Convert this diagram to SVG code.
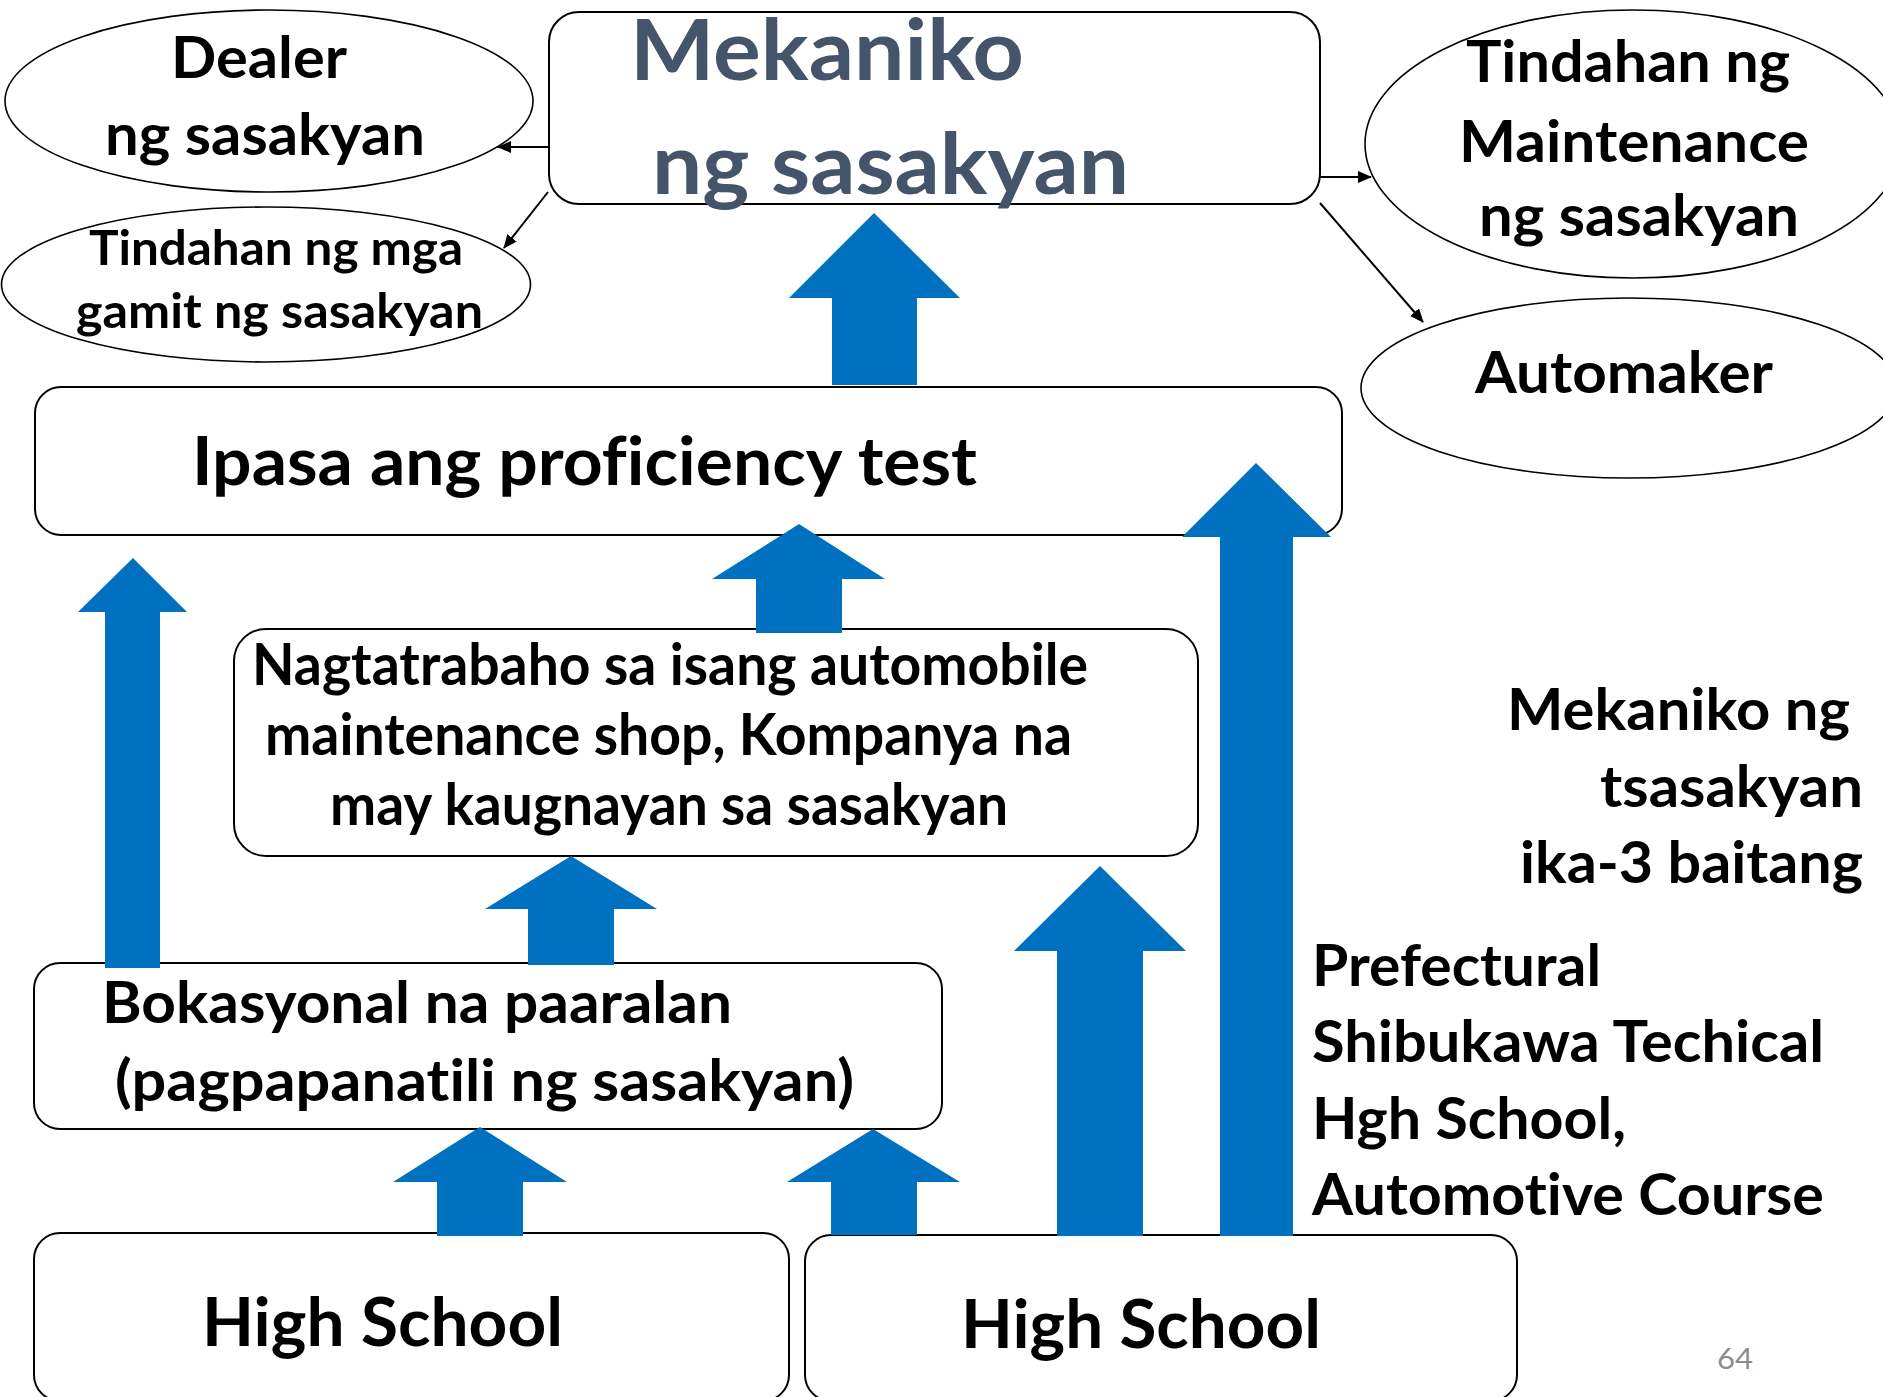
<svg xmlns="http://www.w3.org/2000/svg" width="1883" height="1397" viewBox="0 0 1883 1397">
<style>
.shape{fill:#fff;stroke:#000;stroke-width:2}
.ell{fill:#fff;stroke:#000;stroke-width:1.6}
.t{font-family:Lato,"Open Sans","Liberation Sans",sans-serif;font-weight:700;fill:#000;font-variant-ligatures:none;font-feature-settings:"liga" 0,"clig" 0,"dlig" 0,"calt" 0}
.s57{font-size:57px}.s47{font-size:47px}.s66{font-size:66px}.s85{font-size:84px}
.dark{fill:#44546A}
.blk{fill:#0070C0}
.ln{stroke:#000;stroke-width:2;fill:none;marker-end:url(#ah)}
</style>
<defs>
<marker id="ah" markerUnits="userSpaceOnUse" markerWidth="14" markerHeight="12" refX="13" refY="6" orient="auto">
<path d="M0,0 L14,6 L0,12 z" fill="#000"/>
</marker>
</defs>
<rect width="1883" height="1397" fill="#fff"/>

<g id="dealer">
<ellipse class="ell" cx="269" cy="101" rx="264" ry="91"/>
<text class="t s57" x="171" y="78" textLength="176" lengthAdjust="spacingAndGlyphs">Dealer</text>
<text class="t s57" x="105" y="155" textLength="320" lengthAdjust="spacingAndGlyphs">ng sasakyan</text>
</g>

<g id="tindahan-gamit">
<ellipse class="ell" cx="266" cy="284.5" rx="264.5" ry="77.5"/>
<text class="t s47" x="89" y="265" textLength="374" lengthAdjust="spacingAndGlyphs">Tindahan ng mga</text>
<text class="t s47" x="76" y="328" textLength="407" lengthAdjust="spacingAndGlyphs">gamit ng sasakyan</text>
</g>

<g id="mekaniko">
<rect class="shape" x="549" y="12" width="771" height="192" rx="30"/>
<text class="t s85 dark" x="630" y="80" textLength="394" lengthAdjust="spacingAndGlyphs">Mekaniko</text>
<text class="t s85 dark" x="652" y="194" textLength="477" lengthAdjust="spacingAndGlyphs">ng sasakyan</text>
</g>

<g id="tindahan-maintenance">
<ellipse class="ell" cx="1633" cy="144" rx="268" ry="134"/>
<text class="t s57" x="1466" y="82" textLength="324" lengthAdjust="spacingAndGlyphs">Tindahan ng</text>
<text class="t s57" x="1459" y="162" textLength="350" lengthAdjust="spacingAndGlyphs">Maintenance</text>
<text class="t s57" x="1479" y="236" textLength="320" lengthAdjust="spacingAndGlyphs">ng sasakyan</text>
</g>

<g id="automaker">
<ellipse class="ell" cx="1629" cy="388" rx="268" ry="90"/>
<text class="t s57" x="1475" y="393" textLength="298" lengthAdjust="spacingAndGlyphs">Automaker</text>
</g>

<g id="proficiency">
<rect class="shape" x="35" y="387" width="1307" height="148" rx="26"/>
<text class="t s66" x="192" y="485" textLength="785" lengthAdjust="spacingAndGlyphs">Ipasa ang proficiency test</text>
</g>

<g id="nagtatrabaho">
<rect class="shape" x="234" y="629" width="964" height="227" rx="32"/>
<text class="t s57" x="252" y="685" textLength="836" lengthAdjust="spacingAndGlyphs">Nagtatrabaho sa isang automobile</text>
<text class="t s57" x="265" y="755" textLength="807" lengthAdjust="spacingAndGlyphs">maintenance shop, Kompanya na</text>
<text class="t s57" x="330" y="825" textLength="678" lengthAdjust="spacingAndGlyphs">may kaugnayan sa sasakyan</text>
</g>

<g id="bokasyonal">
<rect class="shape" x="34" y="963" width="908" height="166" rx="26"/>
<text class="t s57" x="102" y="1023" textLength="630" lengthAdjust="spacingAndGlyphs">Bokasyonal na paaralan</text>
<text class="t s57" x="115" y="1101" textLength="739" lengthAdjust="spacingAndGlyphs">(pagpapanat&#x200C;ili ng sasakyan)</text>
</g>

<g id="high-school-left">
<rect class="shape" x="34" y="1233" width="755" height="168" rx="26"/>
<text class="t s66" x="202" y="1346" textLength="361" lengthAdjust="spacingAndGlyphs">High School</text>
</g>

<g id="high-school-right">
<rect class="shape" x="805" y="1235" width="712" height="166" rx="26"/>
<text class="t s66" x="961" y="1348" textLength="360" lengthAdjust="spacingAndGlyphs">High School</text>
</g>

<g id="label-grade">
<text class="t s57" x="1507" y="730" textLength="343" lengthAdjust="spacingAndGlyphs">Mekaniko ng</text>
<text class="t s57" x="1600" y="807" textLength="263" lengthAdjust="spacingAndGlyphs">tsasakyan</text>
<text class="t s57" x="1520" y="883" textLength="343" lengthAdjust="spacingAndGlyphs">ika-3 baitang</text>
</g>

<g id="label-school">
<text class="t s57" x="1312" y="986" textLength="289" lengthAdjust="spacingAndGlyphs">Prefectural</text>
<text class="t s57" x="1312" y="1062" textLength="512" lengthAdjust="spacingAndGlyphs">Shibukawa Techical</text>
<text class="t s57" x="1312" y="1139" textLength="314" lengthAdjust="spacingAndGlyphs">Hgh School,</text>
<text class="t s57" x="1312" y="1215" textLength="512" lengthAdjust="spacingAndGlyphs">Automot&#x200C;ive Course</text>
</g>

<g id="page-number">
<text x="1717" y="1369" font-family="Lato,'Open Sans',sans-serif" font-size="28" fill="#8C8C8C" textLength="36" lengthAdjust="spacingAndGlyphs">64</text>
</g>

<g id="connectors">
<line class="ln" x1="549" y1="147" x2="498" y2="147"/>
<line class="ln" x1="548" y1="192" x2="504" y2="248"/>
<line class="ln" x1="1320" y1="177" x2="1371" y2="177"/>
<line class="ln" x1="1320" y1="203" x2="1423" y2="322"/>
<polygon class="blk" points="874,213 960,298 917,298 917,385 832,385 832,298 789,298"/>
<polygon class="blk" points="799,524 885,579 842,579 842,633 756,633 756,579 712,579"/>
<polygon class="blk" points="133,558 187,612 160,612 160,968 105,968 105,612 78,612"/>
<polygon class="blk" points="571,856 657,909 614,909 614,965 528,965 528,909 485,909"/>
<polygon class="blk" points="480,1127 567,1182 523,1182 523,1236 437,1236 437,1182 393,1182"/>
<polygon class="blk" points="873,1129 960,1182 917,1182 917,1235 831,1235 831,1182 787,1182"/>
<polygon class="blk" points="1100,866 1186,951 1143,951 1143,1236 1057,1236 1057,951 1014,951"/>
<polygon class="blk" points="1256,463 1331,537 1293,537 1293,1236 1220,1236 1220,537 1182,537"/>
</g>
</svg>
